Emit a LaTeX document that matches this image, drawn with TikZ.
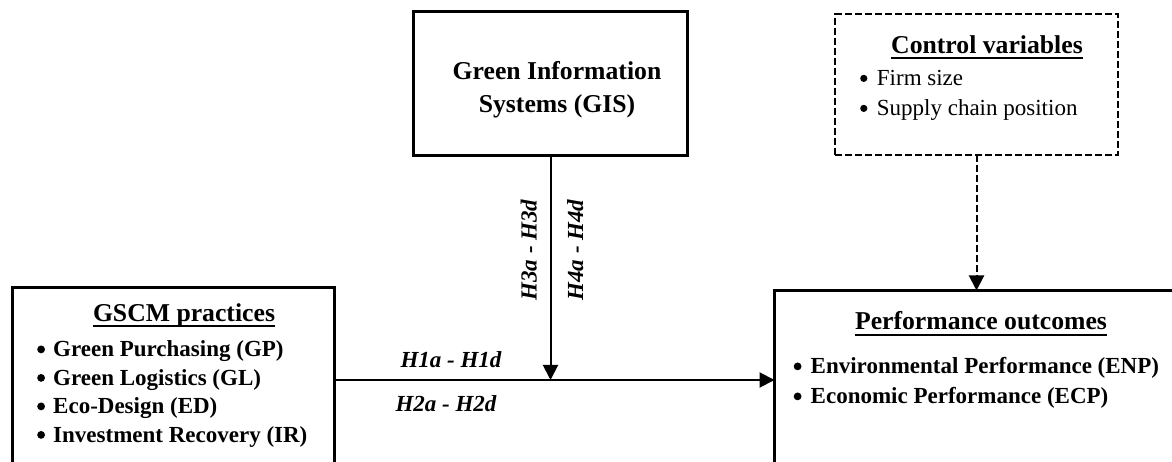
\documentclass[tikz,border=0pt]{standalone}
\usepackage{fontspec}
\setmainfont{Liberation Serif}
\usetikzlibrary{arrows.meta}
\newcommand\ulbox[1]{\setbox0\hbox{#1}\rlap{\rule[-5.7pt]{\wd0}{2pt}}\box0}
\newcommand\bul[2]{\makebox[#1][l]{\tikz[baseline=0pt]\fill[black] (#2,7.6pt) circle (#2);}}
\begin{document}
\begin{tikzpicture}[x=1pt,y=1pt,
  frame/.style={draw=black,line width=3pt,rectangle,inner sep=0pt,outer sep=0pt},
  dframe/.style={draw=black,line width=2.3pt,rectangle,inner sep=0pt,outer sep=0pt,dash pattern=on 7pt off 3pt},
  ttl/.style={inner sep=0pt,anchor=base,font=\fontsize{25.7}{30}\selectfont\bfseries},
  itm/.style={inner sep=0pt,anchor=base west,font=\fontsize{23}{28}\selectfont\bfseries},
  itmr/.style={inner sep=0pt,anchor=base west,font=\fontsize{23}{28}\selectfont},
  hyp/.style={inner sep=0pt,anchor=base,font=\fontsize{23}{28}\selectfont\bfseries\itshape},
  arr/.style={line width=2pt,-{Triangle[length=15pt,width=15pt]}}]
\useasboundingbox (0,0) rectangle (1172,462);
\clip (0,0) rectangle (1172,462);
% boxes
\node[frame,minimum width=274.5pt,minimum height=144pt] (GIS) at (550.25,378.5) {};
\node[dframe,minimum width=283pt,minimum height=140.7pt] (Ctrl) at (976.5,377.35) {};
\node[frame,minimum width=415.5pt,minimum height=189.5pt] (Perf) at (982.25,76.75) {};
\node[frame,minimum width=322.5pt,minimum height=192pt] (GSCM) at (173.25,78) {};
% GIS text
\node[ttl] (gis1) at (557,382) {Green Information};
\node[ttl] (gis2) at (557,349) {Systems (GIS)};
% control text
\node[ttl] (ctrlt) at (987,408.7) {\ulbox{Control variables}};
\node[itmr] (ctrl1) at (860,376) {\bul{16.7pt}{3.6pt}Firm size};
\node[itmr] (ctrl2) at (860,346) {\bul{16.7pt}{3.6pt}Supply chain position};
% performance text
\node[ttl] (perft) at (981,132) {\ulbox{Performance outcomes}};
\node[itm] (perf1) at (793.5,88) {\bul{17pt}{3.9pt}Environmental Performance (ENP)};
\node[itm] (perf2) at (793.5,58) {\bul{17pt}{3.9pt}Economic Performance (ECP)};
% GSCM text
\node[ttl] (gscmt) at (184,140.3) {\ulbox{GSCM practices}};
\node[itm] (g1) at (37,105) {\bul{16pt}{3.9pt}Green Purchasing (GP)};
\node[itm] (g2) at (37,76.5) {\bul{16pt}{3.9pt}Green Logistics (GL)};
\node[itm] (g3) at (37,48) {\bul{16pt}{3.9pt}Eco-Design (ED)};
\node[itm] (g4) at (37,19.5) {\bul{16pt}{3.9pt}Investment Recovery (IR)};
% connectors
\coordinate (jn) at (550.5,82);
\draw[arr] (GSCM.east |- jn) -- (Perf.west |- jn);
\draw[arr] (GIS.south -| jn) -- (jn);
\draw[arr,dash pattern=on 7pt off 3pt] (Ctrl.south) -- (Ctrl.south |- Perf.north);
% hypothesis labels
\node[hyp] (h1) at (451,94) {H1a - H1d};
\node[hyp] (h2) at (446,50.3) {H2a - H2d};
\node[hyp,rotate=90] (h3) at (536.7,212) {H3a - H3d};
\node[hyp,rotate=90] (h4) at (583,212) {H4a - H4d};
\end{tikzpicture}
\end{document}
